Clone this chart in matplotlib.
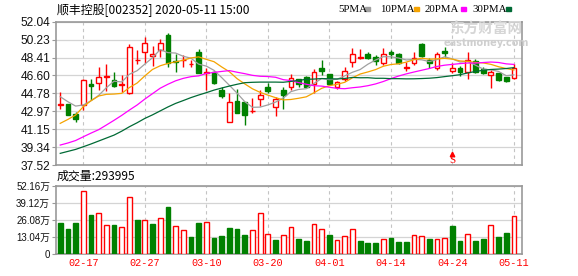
import matplotlib
matplotlib.use("Agg")
import matplotlib.pyplot as plt
import matplotlib.patches as mpatches
import numpy as np
import pandas as pd

# ── Data (60 trading days) ──────────────────────────────────────────────────

dates = ["02-17", "02-27", "03-10", "03-20", "04-01", "04-14", "04-24", "05-11"]
date_idx = [3, 11, 19, 27, 35, 43, 51, 59]

opens = [43.62, 43.66, 42.68, 43.59, 45.72, 45.79, 46.45, 46.13, 45.59, 44.84,
         48.15, 48.93, 48.56, 49.17, 50.69, 48.05, 48.15, 47.78, 48.97, 46.85,
         46.94, 45.11, 41.90, 44.03, 43.90, 42.98, 44.20, 45.45, 43.43, 45.11,
         45.45, 46.20, 46.40, 45.72, 47.38, 46.70, 45.38, 46.20, 47.92, 48.40,
         48.76, 48.42, 47.82, 49.00, 48.76, 47.38, 47.82, 49.78, 48.15, 47.31,
         49.07, 47.04, 47.31, 46.97, 48.05, 47.21, 46.63, 46.80, 46.40, 46.30]
highs = [44.95, 43.70, 42.88, 46.20, 46.20, 47.41, 47.75, 46.94, 46.63, 49.78,
         49.17, 50.45, 49.57, 50.25, 50.86, 48.73, 48.66, 48.15, 49.27, 47.31,
         47.04, 45.38, 44.78, 45.18, 43.95, 44.30, 45.10, 45.80, 44.37, 45.38,
         46.74, 46.26, 46.53, 47.28, 48.15, 46.74, 46.06, 47.48, 49.40, 49.23,
         49.00, 48.66, 49.40, 49.17, 48.90, 47.99, 49.00, 49.84, 48.39, 48.97,
         49.44, 47.82, 47.55, 48.97, 48.22, 47.41, 47.14, 46.87, 46.46, 47.75]
lows = [43.19, 42.55, 41.90, 43.09, 44.10, 45.11, 45.01, 45.38, 44.88, 44.71,
        47.72, 47.82, 47.58, 48.49, 47.41, 46.90, 47.48, 47.48, 46.80, 45.11,
        45.72, 44.34, 41.90, 42.82, 41.55, 42.75, 43.45, 44.78, 42.45, 43.19,
        45.11, 45.38, 45.28, 44.84, 46.60, 45.62, 45.18, 46.03, 47.48, 48.22,
        48.22, 47.65, 47.65, 48.32, 47.75, 47.07, 47.65, 48.49, 47.31, 47.14,
        48.49, 46.80, 46.53, 46.20, 46.80, 46.74, 45.28, 46.06, 45.96, 46.23]
closes = [43.66, 42.61, 42.21, 46.13, 45.52, 46.40, 46.50, 45.52, 45.72, 49.44,
          48.20, 49.84, 48.76, 49.84, 47.88, 48.00, 48.20, 47.80, 46.80, 46.90,
          45.86, 44.51, 43.90, 42.82, 42.58, 43.02, 44.61, 45.01, 44.24, 44.61,
          46.30, 45.72, 45.38, 46.94, 47.07, 45.72, 45.96, 47.07, 48.76, 48.45,
          48.40, 48.09, 48.76, 48.73, 47.82, 47.41, 48.39, 48.56, 47.82, 48.80,
          48.86, 47.31, 46.97, 48.15, 46.90, 46.85, 46.97, 46.13, 45.99, 47.31]
prev_close = 44.20

# volume in 万 shares
volume = [24.05, 19.2, 24.05, 47.85, 29.9, 31.4, 22.3, 22.3, 20.8, 43.3,
          26.1, 26.1, 23.0, 27.6, 35.95, 21.5, 18.5, 13.2, 24.05, 24.6,
          12.4, 13.9, 20.0, 19.2, 14.7, 18.5, 31.4, 15.4, 10.9, 14.4,
          20.8, 11.6, 10.4, 23.0, 19.2, 14.7, 10.9, 13.7, 19.0, 10.4,
          8.6, 8.6, 11.6, 12.4, 9.4, 9.4, 14.4, 13.7, 11.6, 11.6,
          12.4, 21.5, 10.4, 15.4, 10.4, 11.6, 22.3, 13.2, 16.2, 29.4]

# moving-average values before a full window of closes is on screen
ma5_head = [44.44, 43.93, 43.49, 43.60]
ma10_head = [41.74, 42.14, 42.58, 43.43, 44.03, 44.51, 44.68, 44.71, 44.78]
ma20_head = [39.54, 39.75, 40.00, 40.38, 40.75, 41.10, 41.57, 42.05, 42.55, 43.09,
             43.60, 44.20, 44.75, 45.30, 45.70, 46.05, 46.30, 46.47, 46.55]
ma30_head = [38.70, 38.90, 39.10, 39.37, 39.65, 39.95, 40.25, 40.55, 40.95, 41.40,
             41.80, 42.24, 42.60, 43.00, 43.40, 43.76, 44.05, 44.35, 44.61, 44.85,
             45.11, 45.32, 45.52, 45.70, 45.86, 45.90, 45.92, 45.92, 45.92]

price_ticks = [37.52, 39.34, 41.15, 42.97, 44.78, 46.60, 48.41, 50.23, 52.04]
vol_ticks = [0, 13.04, 26.08, 39.12, 52.16]
vol_labels = ["0", "13.04万", "26.08万", "39.12万", "52.16万"]

# ── Style ───────────────────────────────────────────────────────────────────

RED = "#ff0000"
GREEN = "#008000"
FRAME = "#999999"
GRID = "#d4d4d4"
MA_COLORS = {"5PMA": "#a0a0a0", "10PMA": "#f5a300",
             "20PMA": "#ff00ff", "30PMA": "#006a35"}
CJK = ["Liberation Sans", "Noto Sans CJK SC"]

plt.rcParams.update({
    "font.family": CJK,
    "font.size": 7.5,
    "axes.edgecolor": FRAME,
    "axes.linewidth": 1.2,
})

W, H = 578, 276
fig = plt.figure(figsize=(W / 100, H / 100), dpi=100)


def box(x0, y0, x1, y1):
    return [x0 / W, 1 - y1 / H, (x1 - x0) / W, (y1 - y0) / H]


ax = fig.add_axes(box(56, 21.7, 522, 165))
axv = fig.add_axes(box(56, 185.7, 522, 254.3))

x = np.arange(len(closes))
o = np.array(opens)
c = np.array(closes)
up = c >= o

# ── Price panel ─────────────────────────────────────────────────────────────

body_w = 0.62
ax.vlines(x, lows, highs, color=np.where(up, RED, GREEN), lw=1.0, zorder=3)
bottom = np.minimum(o, c)
height = np.maximum(np.abs(c - o), 0.02)
ax.bar(x, height, body_w, bottom=bottom,
       color=np.where(up, "white", GREEN),
       edgecolor=np.where(up, RED, GREEN), linewidth=1.0, zorder=4)

close_s = pd.Series(closes)
for (name, color), n, head in zip(MA_COLORS.items(), [5, 10, 20, 30],
                                  [ma5_head, ma10_head, ma20_head, ma30_head]):
    ma = close_s.rolling(n).mean().to_numpy()
    ma[:n - 1] = head
    ax.plot(x, ma, color=color, lw=0.9, zorder=5)

# sell signal marker
ax.plot(51, 38.62, marker="^", color=RED, ms=3.2, zorder=6, clip_on=False)
ax.text(51, 37.98, "S", color=RED, ha="center", va="center", fontsize=8,
        family="Liberation Serif", zorder=6)

ax.set_xlim(-0.55, 60.05)
ax.set_ylim(37.52, 52.04)
ax.set_yticks(price_ticks)
ax.set_yticklabels([f"{v:.2f}" for v in price_ticks])
ax.set_xticks(date_idx)
ax.tick_params(axis="x", length=0, labelbottom=False)
ax.tick_params(axis="y", length=3, width=0.8, color=FRAME, pad=1.2,
               labelsize=8.6, labelcolor="#111111")
ax.grid(True, axis="y", color=GRID, lw=0.9)
ax.grid(True, axis="x", color="#c4c4c4", lw=0.8, ls=(0, (3, 3)))
ax.set_axisbelow(True)

# ── Volume panel ────────────────────────────────────────────────────────────

vol_up = c >= np.concatenate([[prev_close], c[:-1]])
axv.bar(x, volume, 0.62, color=np.where(vol_up, "white", GREEN),
        edgecolor=np.where(vol_up, RED, GREEN), linewidth=1.0, zorder=3)
axv.set_xlim(-0.55, 60.05)
axv.set_ylim(0, 52.16)
axv.set_yticks(vol_ticks)
axv.set_yticklabels(vol_labels)
axv.set_xticks(date_idx)
axv.set_xticklabels(dates, family="Liberation Mono", fontsize=7.3, color=RED)
axv.tick_params(axis="x", length=0, pad=3)
axv.tick_params(axis="y", length=3, width=0.8, color=FRAME, pad=1.2,
                labelsize=7.0, labelcolor="#111111")
axv.grid(True, axis="y", color=GRID, lw=0.9)
axv.grid(True, axis="x", color="#c4c4c4", lw=0.8, ls=(0, (3, 3)))
axv.set_axisbelow(True)

# ── Header texts ────────────────────────────────────────────────────────────

fig.text(57 / W, 1 - 9.5 / H, "顺丰控股[002352] 2020-05-11 15:00",
         fontsize=8.6, family=["Noto Sans CJK SC", "DejaVu Sans"], va="center")

legend_x = [338, 380, 425, 472]
square_x = [365, 414, 461, 506]
for (name, color), lx, sx in zip(MA_COLORS.items(), legend_x, square_x):
    fig.text(lx / W, 1 - 9.5 / H, name, fontsize=7.8, family="Liberation Serif",
             va="center")
    fig.patches.append(mpatches.Rectangle((sx / W, 1 - 10.5 / H), 5 / W, 3 / H,
                                          color=color, transform=fig.transFigure))

fig.text(57 / W, 1 - 176.5 / H, "成交量:293995", fontsize=8.6,
         family=["Noto Sans CJK SC", "DejaVu Sans"], va="center")

# watermark
fig.text(486 / W, 1 - 28.5 / H, "东方财富网", fontsize=10.5, fontweight="bold",
         family=["Noto Sans CJK SC"], color="#d6d6d6", ha="center", va="center")
fig.text(486 / W, 1 - 42.5 / H, "eastmoney.com", fontsize=7, fontweight="bold",
         family="DejaVu Sans", color="#cfcfcf", ha="center", va="center")

fig.savefig("out.png", dpi=100)
